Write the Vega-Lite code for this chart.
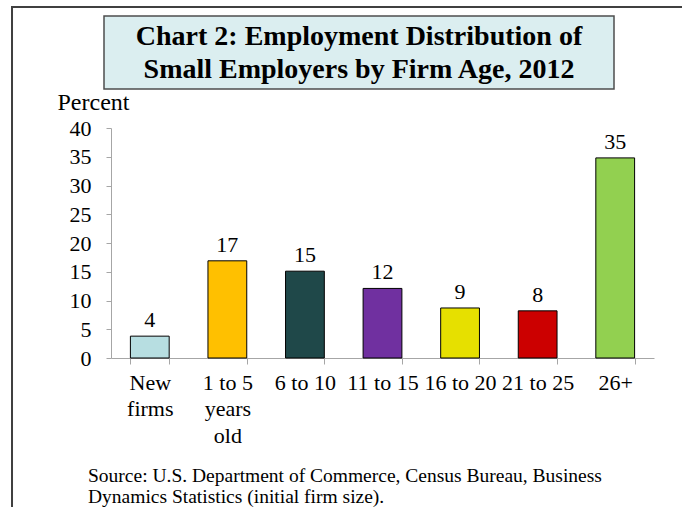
{
  "$schema": "https://vega.github.io/schema/vega-lite/v6.json",
  "padding": {"left": 11, "top": 6, "right": 0, "bottom": 0},
  "autosize": {"type": "pad"},
  "background": "white",
  "config": {"view": {"stroke": null}, "font": "Liberation Serif"},
  "datasets": {
    "ages": [
      {"age": "New firms", "pct": 3.8},
      {"age": "1 to 5 years old", "pct": 16.9},
      {"age": "6 to 10", "pct": 15.1},
      {"age": "11 to 15", "pct": 12.1},
      {"age": "16 to 20", "pct": 8.7},
      {"age": "21 to 25", "pct": 8.2},
      {"age": "26+", "pct": 34.8}
    ],
    "titleLines": [
      {"line": 1, "text": "Chart 2: Employment Distribution of"},
      {"line": 2, "text": "Small Employers by Firm Age, 2012"}
    ]
  },
  "bounds": "flush",
  "spacing": 0,
  "hconcat": [
    {"width": 0.01, "height": 499, "view": {"stroke": "#404040", "strokeWidth": 2}, "data": {"values": []}, "mark": "point", "encoding": {}},
    {
      "bounds": "flush",
      "spacing": 8,
      "vconcat": [
        {"width": 668, "height": 0.01, "view": {"stroke": "#404040", "strokeWidth": 2}, "data": {"values": []}, "mark": "point", "encoding": {}},
        {
          "bounds": "flush",
          "spacing": 90,
          "hconcat": [
            {"width": 0.01, "height": 0.01, "data": {"values": []}, "mark": "point", "encoding": {}},
            {
              "bounds": "flush",
              "spacing": 39,
              "vconcat": [
                {
                  "width": 510,
                  "height": 73,
                  "view": {"fill": "#DBEEF0", "stroke": "#4d4d4d", "strokeWidth": 1.5},
                  "data": {"name": "titleLines"},
                  "mark": {"type": "text", "font": "Liberation Serif", "fontWeight": "bold", "fontSize": 28, "baseline": "alphabetic", "dy": 9, "color": "black"},
                  "encoding": {
                    "y": {"field": "line", "type": "ordinal", "axis": null, "scale": {"padding": 0.606}},
                    "text": {"field": "text"}
                  }
                },
                {
                  "bounds": "flush",
                  "spacing": 6,
                  "hconcat": [
                    {"width": 0.01, "height": 0.01, "data": {"values": []}, "mark": "point", "encoding": {}},
                    {
                      "width": 543,
                      "height": 230,
                      "data": {"name": "ages"},
                      "title": {
                        "text": ["Source: U.S. Department of Commerce, Census Bureau, Business", "Dynamics Statistics (initial firm size)."],
                        "orient": "bottom",
                        "anchor": "start",
                        "frame": "group",
                        "dx": -23,
                        "offset": 21,
                        "font": "Liberation Serif",
                        "fontSize": 19.5,
                        "fontWeight": "normal",
                        "color": "black",
                        "lineHeight": 20.5
                      },
                      "encoding": {
                        "x": {
                          "field": "age",
                          "type": "nominal",
                          "sort": null,
                          "scale": {"paddingInner": 0.5, "paddingOuter": 0.25},
                          "axis": {
                            "title": null,
                            "labelAngle": 0,
                            "tickBand": "extent",
                            "domainColor": "#a6a6a6",
                            "tickColor": "#a6a6a6",
                            "tickSize": 6,
                            "labelFont": "Liberation Serif",
                            "labelFontSize": 22,
                            "labelColor": "black",
                            "labelPadding": 8,
                            "labelLineHeight": 26.5,
                            "labelOverlap": false,
                            "labelLimit": 0,
                            "labelExpr": "datum.value == 'New firms' ? ['New', 'firms'] : datum.value == '1 to 5 years old' ? ['1 to 5', 'years', 'old'] : datum.value"
                          }
                        },
                        "y": {
                          "field": "pct",
                          "type": "quantitative",
                          "scale": {"domain": [0, 40], "nice": false},
                          "axis": {
                            "title": "Percent",
                            "titleAngle": 0,
                            "titleAlign": "left",
                            "titleBaseline": "alphabetic",
                            "titleX": -54,
                            "titleY": -19,
                            "titleFont": "Liberation Serif",
                            "titleFontSize": 24,
                            "titleFontWeight": "normal",
                            "titleColor": "black",
                            "values": [0, 5, 10, 15, 20, 25, 30, 35, 40],
                            "labelOverlap": false,
                            "grid": false,
                            "domainColor": "#a6a6a6",
                            "tickColor": "#a6a6a6",
                            "tickSize": 5,
                            "labelPadding": 15,
                            "labelFont": "Liberation Serif",
                            "labelFontSize": 22,
                            "labelColor": "black"
                          }
                        }
                      },
                      "layer": [
                        {
                          "mark": {"type": "bar", "stroke": "black", "strokeWidth": 1},
                          "encoding": {
                            "color": {
                              "field": "age",
                              "type": "nominal",
                              "scale": {
                                "domain": ["New firms", "1 to 5 years old", "6 to 10", "11 to 15", "16 to 20", "21 to 25", "26+"],
                                "range": ["#B7DEE1", "#FFC000", "#1F4849", "#7030A0", "#E6E000", "#CC0000", "#92D050"]
                              },
                              "legend": null
                            }
                          }
                        },
                        {
                          "mark": {"type": "text", "baseline": "alphabetic", "dy": -9, "font": "Liberation Serif", "fontSize": 22, "color": "black"},
                          "encoding": {
                            "text": {"field": "pct", "type": "quantitative", "format": ".0f"}
                          }
                        }
                      ]
                    }
                  ]
                }
              ]
            }
          ]
        }
      ]
    }
  ]
}
